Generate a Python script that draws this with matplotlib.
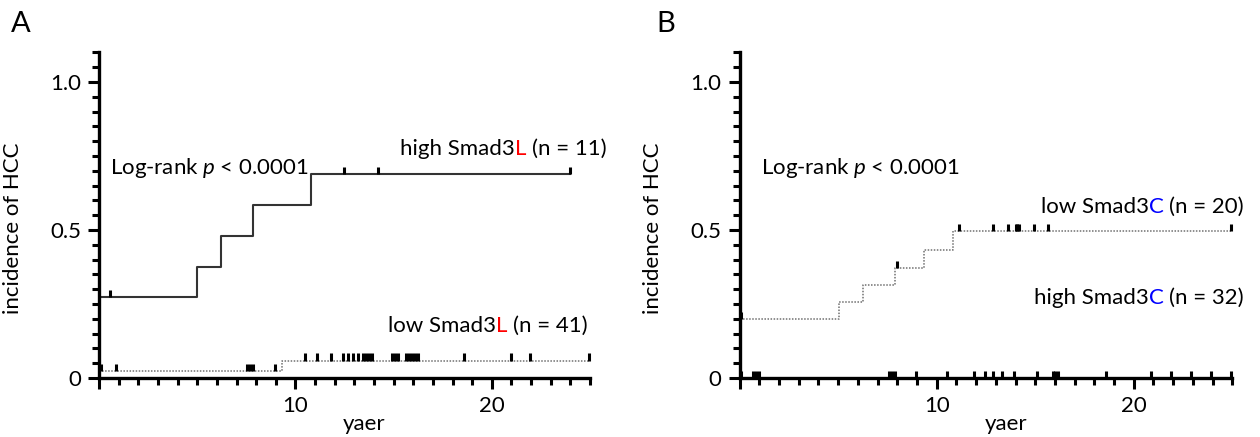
import numpy as np
import matplotlib
matplotlib.use("Agg")
import matplotlib.pyplot as plt
from matplotlib.ticker import MultipleLocator, FixedLocator, FixedFormatter

plt.rcParams['font.family'] = ['Lato', 'DejaVu Sans']
plt.rcParams['mathtext.fontset'] = 'custom'
plt.rcParams['mathtext.rm'] = 'Lato'
plt.rcParams['mathtext.it'] = 'Lato:italic'

# ---- data ----
# Panel A: high Smad3L (solid), low Smad3L (dotted)
a_high_times = [0, 5.0, 6.2, 7.85, 10.8]
a_high_levels = [0.273, 0.375, 0.48, 0.584, 0.688]
a_high_end = 24.0
a_high_censor = [0.55, 12.45, 14.2, 24.0]

a_low_times = [0, 9.3]
a_low_levels = [0.022, 0.059]
a_low_end = 25.0
a_low_censor = [0.1, 0.85, 7.55, 7.7, 7.85, 8.95, 10.5, 11.1, 11.8, 12.4, 12.7,
                12.95, 13.2, 13.45, 13.6, 13.75, 13.9, 14.9, 15.05, 15.2, 15.65,
                15.8, 15.95, 16.1, 16.25, 18.6, 21.0, 21.95, 24.95]

# Panel B: low Smad3C (dotted), high Smad3C (no events, all censored)
b_low_times = [0, 5.03, 6.25, 7.87, 9.38, 10.83]
b_low_levels = [0.20, 0.257, 0.313, 0.371, 0.433, 0.497]
b_low_end = 24.95
b_low_censor = [0.05, 7.97, 11.15, 12.86, 13.6, 14.0, 14.1, 14.2, 14.93, 15.67, 24.95]

b_high_times = [0]
b_high_levels = [0.0]
b_high_end = 25.0
b_high_censor = [0.05, 0.7, 0.85, 1.0, 7.6, 7.75, 7.9, 8.95, 10.5, 11.9, 12.45,
                 12.85, 13.3, 13.9, 15.1, 15.9, 16.0, 16.15, 18.6, 20.9, 21.9,
                 22.9, 23.9, 24.95]

FS = 16
TICK_H = 0.024


def draw_curve(ax, times, levels, end, censor, **kw):
    xs = list(times) + [end]
    ys = list(levels) + [levels[-1]]
    ax.step(xs, ys, where='post', **kw)
    idx = np.searchsorted(times, censor, side='right') - 1
    cy = np.array(levels)[idx]
    ax.vlines(censor, cy, cy + TICK_H, color='black', lw=2.2, clip_on=False)


def text_width(ax, s, r):
    t = ax.text(0, 0, s, fontsize=FS)
    w = t.get_window_extent(r).width
    t.remove()
    return w


def colored_label(ax, x, y, prefix, colored, suffix, color):
    # right-aligned label "prefix + colored + suffix", middle part coloured
    r = ax.figure.canvas.get_renderer()
    full = prefix + colored + suffix
    suf = suffix.strip()
    xr, yd = ax.transData.transform((x, y))
    x0 = xr - text_width(ax, full, r)
    xc = x0 + text_width(ax, prefix + colored, r) - text_width(ax, colored, r)
    xs = x0 + text_width(ax, full, r) - text_width(ax, suf, r)
    inv = ax.transData.inverted()
    for xp, s, c in [(x0, prefix, 'black'), (xc, colored, color), (xs, suf, 'black')]:
        ax.text(inv.transform((xp, yd))[0], y, s, fontsize=FS, ha='left',
                va='center', color=c)


def style_axes(ax):
    ax.set_xlim(0, 25)
    ax.set_ylim(0, 1.1)
    for sp in ['top', 'right']:
        ax.spines[sp].set_visible(False)
    for sp in ['left', 'bottom']:
        ax.spines[sp].set_linewidth(2.4)
    ax.xaxis.set_major_locator(FixedLocator([0, 10, 20]))
    ax.xaxis.set_major_formatter(FixedFormatter(['', '10', '20']))
    ax.xaxis.set_minor_locator(MultipleLocator(1))
    ax.yaxis.set_major_locator(FixedLocator([0, 0.5, 1.0]))
    ax.yaxis.set_major_formatter(FixedFormatter(['0', '0.5', '1.0']))
    ax.yaxis.set_minor_locator(MultipleLocator(0.05))
    ax.tick_params(which='major', length=8, width=2.2, labelsize=FS, pad=5)
    ax.tick_params(which='minor', length=5, width=2.2)
    ax.set_xlabel('yaer', fontsize=FS)
    ax.set_ylabel('incidence of HCC', fontsize=FS)
    ax.xaxis.set_label_coords(0.54, -0.112)
    ax.yaxis.set_label_coords(-0.155, 0.46)


fig = plt.figure(figsize=(12.6, 4.37), dpi=100)
axA = fig.add_axes([0.0786, 0.135, 0.3897, 0.745])
axB = fig.add_axes([0.587, 0.135, 0.391, 0.745])

for ax in (axA, axB):
    style_axes(ax)

solid = dict(color='#333333', lw=1.5)
dotted = dict(color='#707070', lw=1.1, linestyle=(0, (1, 1)))

draw_curve(axA, a_high_times, a_high_levels, a_high_end, a_high_censor, **solid)
draw_curve(axA, a_low_times, a_low_levels, a_low_end, a_low_censor, **dotted)
draw_curve(axB, b_low_times, b_low_levels, b_low_end, b_low_censor, **dotted)
draw_curve(axB, b_high_times, b_high_levels, b_high_end, b_high_censor, **dotted)

axA.text(0.55, 0.71, 'Log-rank $p$ < 0.0001', fontsize=FS, ha='left', va='center')
colored_label(axA, 25.85, 0.775, 'high Smad3', 'L', ' (n = 11)', 'red')
colored_label(axA, 24.9, 0.175, 'low Smad3', 'L', ' (n = 41)', 'red')

axB.text(1.1, 0.71, 'Log-rank $p$ < 0.0001', fontsize=FS, ha='left', va='center')
colored_label(axB, 25.6, 0.578, 'low Smad3', 'C', ' (n = 20)', 'blue')
colored_label(axB, 25.6, 0.272, 'high Smad3', 'C', ' (n = 32)', 'blue')

fig.text(0.009, 0.975, 'A', fontsize=21, va='top', ha='left')
fig.text(0.521, 0.975, 'B', fontsize=21, va='top', ha='left')

fig.savefig('out.png', dpi=100)
